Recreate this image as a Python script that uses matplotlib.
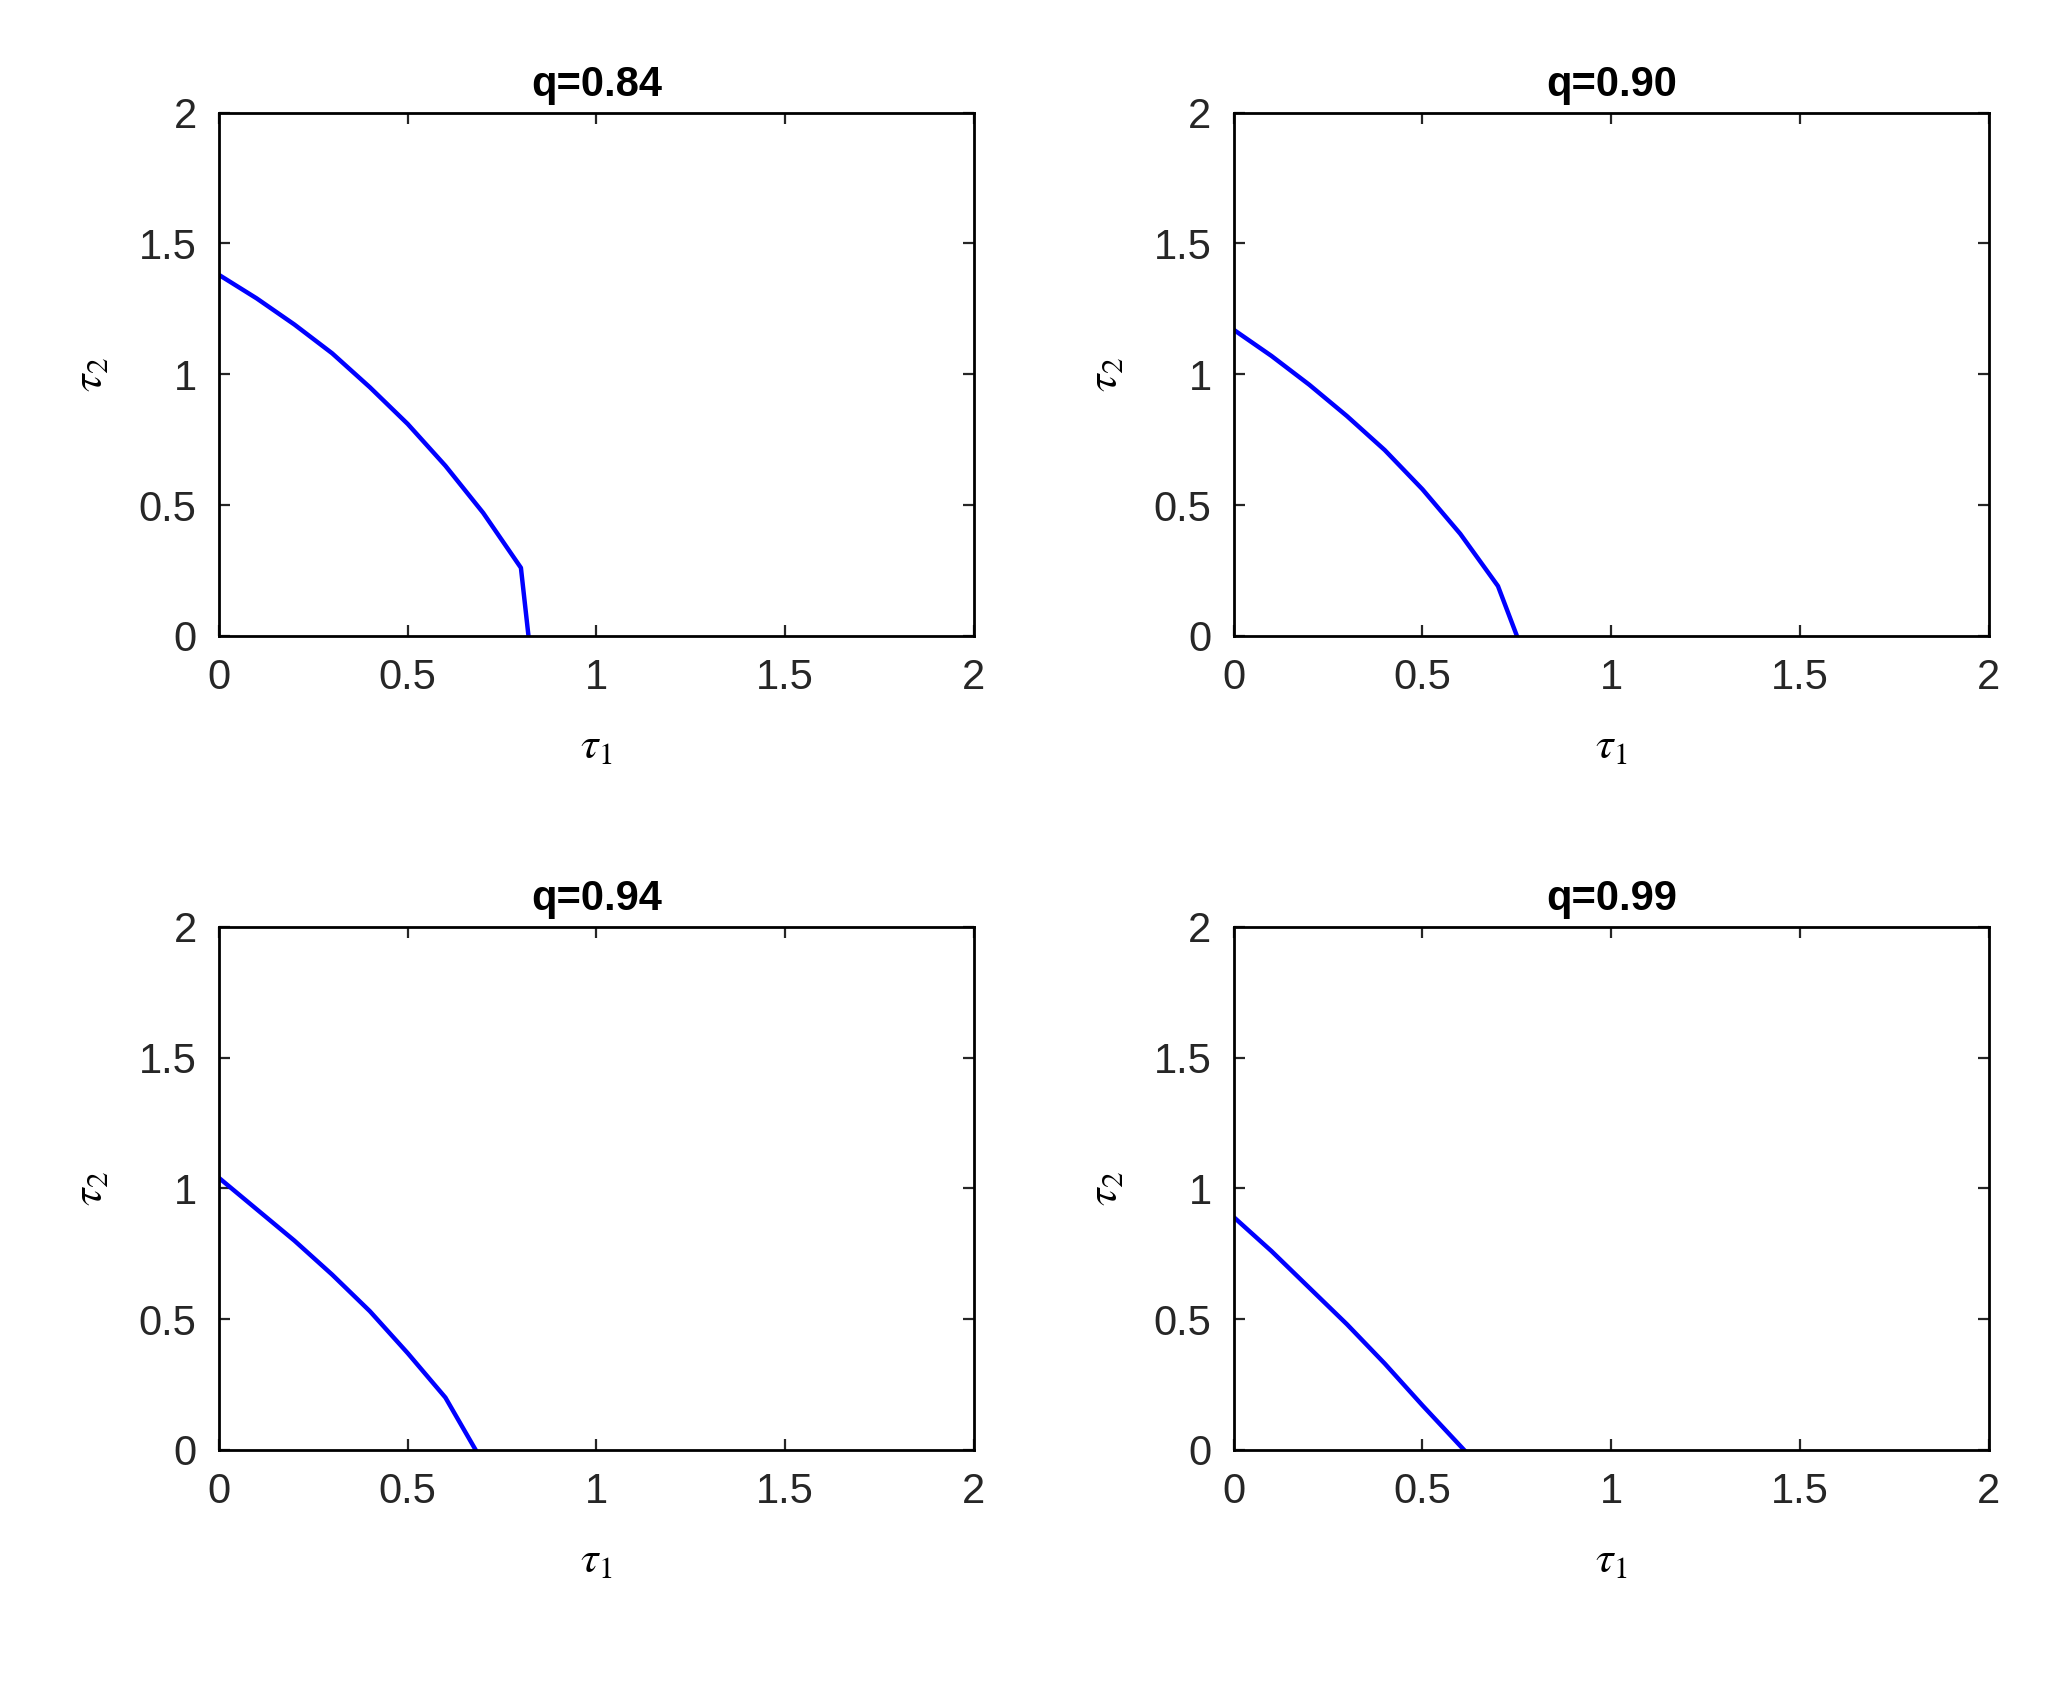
import matplotlib
matplotlib.use("Agg")
import matplotlib.pyplot as plt

plt.rcParams.update({
    "font.family": ["Liberation Sans", "DejaVu Sans"],
    "mathtext.fontset": "stix",
    "font.size": 14,
    "axes.linewidth": 1.0,
})

TITLES = ["q=0.84", "q=0.90", "q=0.94", "q=0.99"]
TAU1 = [
    [0, 0.1, 0.2, 0.3, 0.4, 0.5, 0.6, 0.7, 0.8, 0.82],
    [0, 0.1, 0.2, 0.3, 0.4, 0.5, 0.6, 0.7, 0.75],
    [0, 0.1, 0.2, 0.3, 0.4, 0.5, 0.6, 0.68],
    [0, 0.1, 0.2, 0.3, 0.4, 0.5, 0.61],
]
TAU2 = [
    [1.38, 1.29, 1.19, 1.08, 0.95, 0.81, 0.65, 0.47, 0.26, 0.0],
    [1.17, 1.07, 0.96, 0.84, 0.71, 0.56, 0.39, 0.19, 0.0],
    [1.04, 0.92, 0.80, 0.67, 0.53, 0.37, 0.20, 0.0],
    [0.89, 0.76, 0.62, 0.48, 0.33, 0.17, 0.0],
]

fig = plt.figure(figsize=(10.23, 8.41), dpi=200)
lefts = [0.107, 0.603]
bottoms = [0.622, 0.138]
for i in range(4):
    ax = fig.add_axes([lefts[i % 2], bottoms[i // 2], 0.369, 0.311])
    ax.plot(TAU1[i], TAU2[i], color="blue", linewidth=1.6)
    ax.set_xlim(0, 2)
    ax.set_ylim(0, 2)
    ax.set_xticks([0, 0.5, 1, 1.5, 2])
    ax.set_yticks([0, 0.5, 1, 1.5, 2])
    ax.set_xticklabels(["0", "0.5", "1", "1.5", "2"])
    ax.set_yticklabels(["0", "0.5", "1", "1.5", "2"])
    ax.tick_params(direction="in", top=True, right=True, length=4, labelsize=15,
                   colors="#262626", pad=8)
    ax.set_xlabel(r"$\tau_1$", fontsize=16, labelpad=10)
    ax.set_ylabel(r"$\tau_2$", fontsize=16, labelpad=10)
    ax.set_title(TITLES[i], fontweight="bold", fontsize=15, pad=6)

fig.savefig("out.png", dpi=200)
